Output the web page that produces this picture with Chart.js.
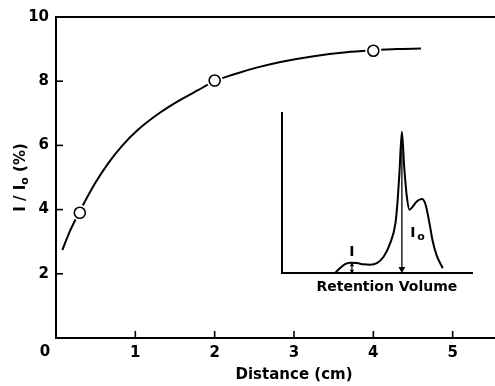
<!DOCTYPE html>
<html>
<head>
<meta charset="utf-8">
<script src="https://cdn.jsdelivr.net/npm/chart.js@4.4.0/dist/chart.umd.min.js"></script>
<style>
	html, body { margin: 0; padding: 0; background: #fff; overflow: hidden; }
	#wrap { position: relative; width: 495px; height: 386px; overflow: hidden; }
	#mainChart { position: absolute; left: 0; top: 0; }
	#insetChart { position: absolute; left: 270px; top: 100px; }
</style>
</head>
<body>
<div id="wrap">
	<canvas id="mainChart" width="540" height="386"></canvas>
	<canvas id="insetChart" width="220" height="200"></canvas>
</div>
<script>
// fitted curve
const distance = [0.08, 0.17, 0.3, 0.5, 0.66, 0.83, 1.04, 1.3, 1.54, 1.79, 2.0, 2.29, 2.54, 2.83, 3.25, 3.66, 4.0, 4.3, 4.6];
const ratio = [2.74, 3.3, 3.95, 4.85, 5.45, 5.98, 6.5, 7.0, 7.38, 7.72, 8.0, 8.25, 8.43, 8.6, 8.78, 8.9, 8.96, 9.0, 9.02];

// measured points (open circles)
const pointDistance = [0.3, 2, 4];
const pointRatio = [3.9, 8.02, 8.95];

const xTicks = [0, 1, 2, 3, 4, 5];
const yTicks = [2, 4, 6, 8, 10];

// inset chromatogram (arbitrary units)
const retention = [0.28, 0.306, 0.332, 0.359, 0.394, 0.429, 0.464, 0.499, 0.534, 0.569, 0.597, 0.607, 0.618, 0.631, 0.643, 0.657, 0.671, 0.688, 0.709, 0.736, 0.755, 0.776, 0.793, 0.814, 0.846];
const signal = [0, 0.031, 0.055, 0.064, 0.062, 0.054, 0.052, 0.062, 0.1, 0.185, 0.31, 0.43, 0.624, 0.883, 0.665, 0.478, 0.395, 0.415, 0.447, 0.462, 0.43, 0.312, 0.2, 0.11, 0.03];
const peakX = 0.631;
const peakTop = 0.8;
const humpX = 0.368;
const humpTop = 0.062;

const FONT = "'DejaVu Sans', sans-serif";

const mainDecor = {
	id: "mainDecor",
	afterDraw(chart) {
		const ctx = chart.ctx;
		const x = chart.scales.x;
		const y = chart.scales.y;
		ctx.save();
		ctx.strokeStyle = "#000";
		ctx.lineWidth = 1.6;
		// tick marks point into the plot
		xTicks.forEach((v) => {
			if (v === 0) return;
			const px = x.getPixelForValue(v);
			ctx.beginPath();
			ctx.moveTo(px, y.bottom);
			ctx.lineTo(px, y.bottom - 7);
			ctx.stroke();
		});
		yTicks.forEach((v) => {
			if (v === 10) return;
			const py = y.getPixelForValue(v);
			ctx.beginPath();
			ctx.moveTo(x.left, py);
			ctx.lineTo(x.left + 7, py);
			ctx.stroke();
		});
		ctx.fillStyle = "#000";
		// origin label sits left of the axis
		ctx.font = "bold 15px " + FONT;
		ctx.textAlign = "center";
		ctx.textBaseline = "middle";
		ctx.fillText("0", x.getPixelForValue(0) - 11, y.bottom + 14);

		// y title with subscript: I / Io (%)
		const big = "bold 15px " + FONT;
		const small = "bold 11px " + FONT;
		ctx.font = big;
		const w1 = ctx.measureText("I / I").width;
		const w3 = ctx.measureText(" (%)").width;
		ctx.font = small;
		const w2 = ctx.measureText("o").width;
		const total = w1 + w2 + w3;
		ctx.translate(25, (y.top + y.bottom) / 2);
		ctx.rotate(-Math.PI / 2);
		ctx.textAlign = "left";
		ctx.textBaseline = "alphabetic";
		let tx = -total / 2;
		ctx.font = big;
		ctx.fillText("I / I", tx, 0);
		tx += w1;
		ctx.font = small;
		ctx.fillText("o", tx, 3);
		tx += w2;
		ctx.font = big;
		ctx.fillText(" (%)", tx, 0);
		ctx.restore();
	},
};

new Chart(document.getElementById("mainChart"), {
	type: "line",
	data: {
		datasets: [
			{
				label: "measured",
				data: pointDistance.map((v, i) => ({ x: v, y: pointRatio[i] })),
				showLine: false,
				pointRadius: 5.5,
				pointBorderWidth: 1.6,
				pointBackgroundColor: "#fff",
				pointBorderColor: "#000",
				xAxisID: "x",
				yAxisID: "y",
				order: 0,
			},
			{
				label: "halo",
				data: pointDistance.map((v, i) => ({ x: v, y: pointRatio[i] })),
				showLine: false,
				pointRadius: 8,
				pointBorderWidth: 0,
				pointBackgroundColor: "#fff",
				pointBorderColor: "#fff",
				xAxisID: "x",
				yAxisID: "y",
				order: 1,
			},
			{
				label: "fit",
				data: distance.map((v, i) => ({ x: v, y: ratio[i] })),
				borderColor: "#000",
				borderWidth: 2,
				pointRadius: 0,
				cubicInterpolationMode: "monotone",
				xAxisID: "x",
				yAxisID: "y",
				order: 2,
			},
		],
	},
	options: {
		responsive: false,
		animation: false,
		devicePixelRatio: 1,
		layout: { padding: { top: 17, right: 2, left: 0, bottom: 0 } },
		plugins: { legend: { display: false }, tooltip: { enabled: false } },
		scales: {
			x: {
				type: "linear",
				position: "bottom",
				min: 0,
				max: 6,
				afterBuildTicks: (s) => { s.ticks = xTicks.map((v) => ({ value: v })); },
				ticks: {
					callback: (v) => (v === 0 ? "" : String(v)),
					font: { family: FONT, size: 15, weight: "bold" },
					color: "#000",
					padding: 6,
					maxRotation: 0,
					autoSkip: false,
				},
				grid: { display: false, drawTicks: false },
				border: { display: true, color: "#000", width: 2 },
				title: {
					display: true,
					text: "Distance (cm)",
					color: "#000",
					font: { family: FONT, size: 15, weight: "bold" },
					padding: { top: 0, bottom: 2 },
				},
				afterFit: (s) => { s.height = 48; },
			},
			xTop: {
				type: "linear",
				position: "top",
				min: 0,
				max: 6,
				ticks: { display: false },
				grid: { display: false, drawTicks: false },
				border: { display: true, color: "#000", width: 2 },
				afterFit: (s) => { s.height = 0; },
			},
			y: {
				type: "linear",
				position: "left",
				min: 0,
				max: 10,
				afterBuildTicks: (s) => { s.ticks = yTicks.map((v) => ({ value: v })); },
				ticks: {
					font: { family: FONT, size: 15, weight: "bold" },
					color: "#000",
					padding: 7,
					autoSkip: false,
				},
				grid: { display: false, drawTicks: false },
				border: { display: true, color: "#000", width: 2 },
				afterFit: (s) => { s.width = 56; },
			},
		},
	},
	plugins: [mainDecor],
});

const insetText = {
	id: "insetText",
	afterDraw(chart) {
		const ctx = chart.ctx;
		const x = chart.scales.x;
		const y = chart.scales.y;
		ctx.save();
		ctx.fillStyle = "#000";
		ctx.textBaseline = "middle";
		ctx.textAlign = "center";
		ctx.font = "bold 14px " + FONT;
		ctx.fillText("Retention Volume", x.getPixelForValue(0.552), y.bottom + 14);
		ctx.fillText("I", x.getPixelForValue(humpX), y.getPixelForValue(0.131));
		ctx.textAlign = "left";
		const ix = x.getPixelForValue(0.675);
		const iy = y.getPixelForValue(0.25);
		ctx.fillText("I", ix, iy);
		ctx.font = "bold 11px " + FONT;
		ctx.fillText("o", ix + ctx.measureText("I").width + 3, iy + 4);
		ctx.restore();
	},
};

new Chart(document.getElementById("insetChart"), {
	type: "line",
	data: {
		datasets: [
			{
				label: "chromatogram",
				data: retention.map((v, i) => ({ x: v, y: signal[i] })),
				borderColor: "#000",
				borderWidth: 2,
				pointRadius: 0,
				cubicInterpolationMode: "monotone",
			},
			{
				label: "Io",
				data: [{ x: peakX, y: peakTop }, { x: peakX, y: 0.025 }],
				borderColor: "#000",
				backgroundColor: "#000",
				borderWidth: 1.3,
				pointStyle: "triangle",
				rotation: 180,
				pointRadius: [0, 4],
				pointBorderWidth: 0,
			},
			{
				label: "I",
				data: [{ x: humpX, y: humpTop - 0.012 }, { x: humpX, y: 0.012 }],
				borderColor: "#000",
				backgroundColor: "#000",
				borderWidth: 1.2,
				pointStyle: "triangle",
				rotation: [0, 180],
				pointRadius: [2.5, 2.5],
				pointBorderWidth: 0,
			},
		],
	},
	options: {
		responsive: false,
		animation: false,
		devicePixelRatio: 1,
		layout: { padding: { left: 12, top: 13, right: 18, bottom: 27 } },
		plugins: { legend: { display: false }, tooltip: { enabled: false } },
		scales: {
			x: {
				type: "linear",
				min: 0,
				max: 1,
				ticks: { display: false },
				grid: { display: false, drawTicks: false },
				border: { display: true, color: "#000", width: 2 },
				afterFit: (s) => { s.height = 0; },
			},
			y: {
				type: "linear",
				min: 0,
				max: 1,
				ticks: { display: false },
				grid: { display: false, drawTicks: false },
				border: { display: true, color: "#000", width: 2 },
				afterFit: (s) => { s.width = 0; },
			},
		},
	},
	plugins: [insetText],
});
</script>
</body>
</html>
